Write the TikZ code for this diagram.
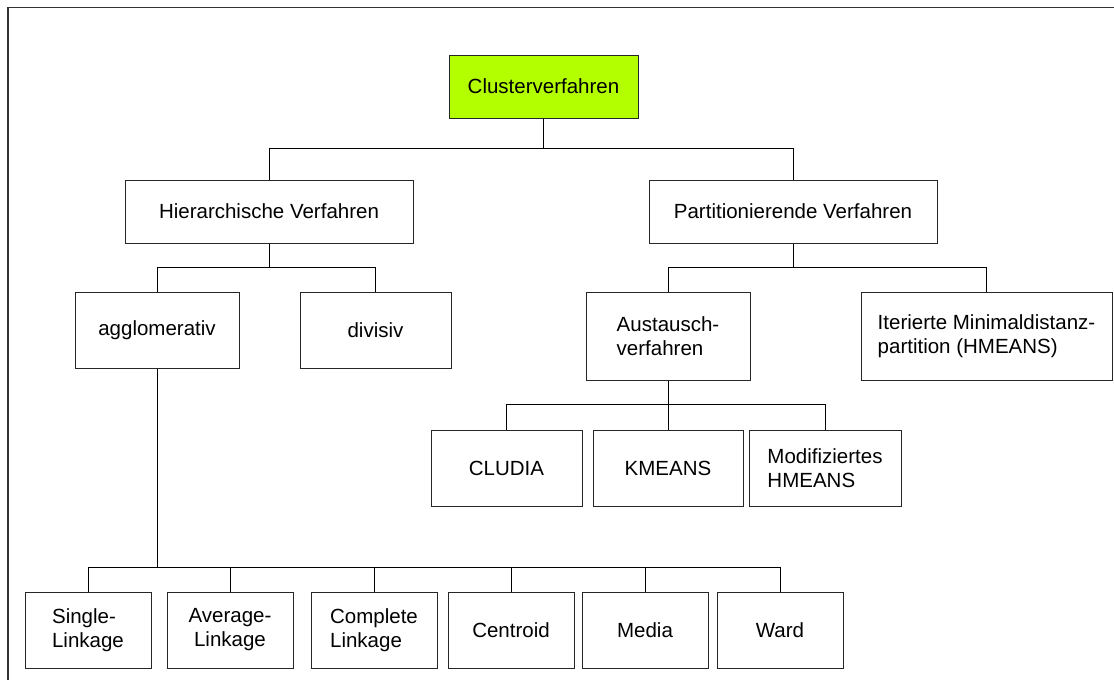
\documentclass[tikz,border=0pt]{standalone}
\usepackage{fontspec}
\setmainfont{Liberation Sans}
\definecolor{lime}{RGB}{179,255,0}
\begin{document}
\begin{tikzpicture}[x=1pt,y=-1pt,
  box/.style={draw=black!85,line width=1pt,inner sep=0pt,align=left,
    font=\fontsize{20.5}{24}\selectfont,text=black},
  conn/.style={draw=black,line width=1pt},
  frame/.style={draw=black!80,line width=1.3pt}]
\useasboundingbox (0,0) rectangle (1114,680);
\clip (0,0) rectangle (1114,680);
\fill[white] (0,0) rectangle (1114,680);
\draw[frame] (8,7.5) rectangle (1130,700);
% nodes
\node[box,fill=lime,minimum width=189pt,minimum height=63pt] (cv) at (543.5,86.5) {Clusterverfahren};
\node[box,minimum width=288pt,minimum height=63pt] (hv) at (269,211.5) {Hierarchische Verfahren};
\node[box,minimum width=288pt,minimum height=63pt] (pv) at (793,211.5) {Partitionierende Verfahren};
\node[box,minimum width=164pt,minimum height=76pt] (ag) at (157,330) {agglomerativ};
\node[box,minimum width=151pt,minimum height=76pt] (dv) at (375.5,330) {divisiv};
\node[box,minimum width=164pt,minimum height=88pt] (au) at (668,336) {Austausch-\\verfahren};
\node[box,minimum width=251pt,minimum height=88pt] (it) at (986.5,336) {Iterierte Minimaldistanz-\\partition (HMEANS)};
\node[box,minimum width=151pt,minimum height=76pt] (cl) at (506.5,468) {CLUDIA};
\node[box,minimum width=150pt,minimum height=76pt] (km) at (668,468) {KMEANS};
\node[box,minimum width=152pt,minimum height=76pt] (mo) at (825,468) {Modifiziertes\\HMEANS};
\node[box,minimum width=126pt,minimum height=76pt] (sl) at (88,630) {Single-\\Linkage};
\node[box,align=center,minimum width=126pt,minimum height=76pt] (al) at (230,630) {Average-\\Linkage};
\node[box,minimum width=126pt,minimum height=76pt] (co) at (374,630) {Complete\\Linkage};
\node[box,minimum width=126pt,minimum height=76pt] (ce) at (511,630) {Centroid};
\node[box,minimum width=126pt,minimum height=76pt] (me) at (645,630) {Media};
\node[box,minimum width=126pt,minimum height=76pt] (wa) at (780,630) {Ward};
% bar coordinates
\coordinate (b1) at (543.5,148);
\coordinate (b2) at (269,267);
\coordinate (b3) at (793,267);
\coordinate (b4) at (668,404);
\coordinate (b5) at (157,567);
% connectors
\draw[conn] (cv.south) -- (b1);
\draw[conn] (b1) -| (hv.north);
\draw[conn] (b1) -| (pv.north);
\draw[conn] (hv.south) -- (b2);
\draw[conn] (b2) -| (ag.north);
\draw[conn] (b2) -| (dv.north);
\draw[conn] (pv.south) -- (b3);
\draw[conn] (b3) -| (au.north);
\draw[conn] (b3) -| (it.north);
\draw[conn] (au.south) -- (b4);
\draw[conn] (b4) -| (cl.north);
\draw[conn] (b4) -| (km.north);
\draw[conn] (b4) -| (mo.north);
\draw[conn] (ag.south) -- (b5);
\foreach \n in {sl,al,co,ce,me,wa} \draw[conn] (b5) -| (\n.north);
\end{tikzpicture}
\end{document}
